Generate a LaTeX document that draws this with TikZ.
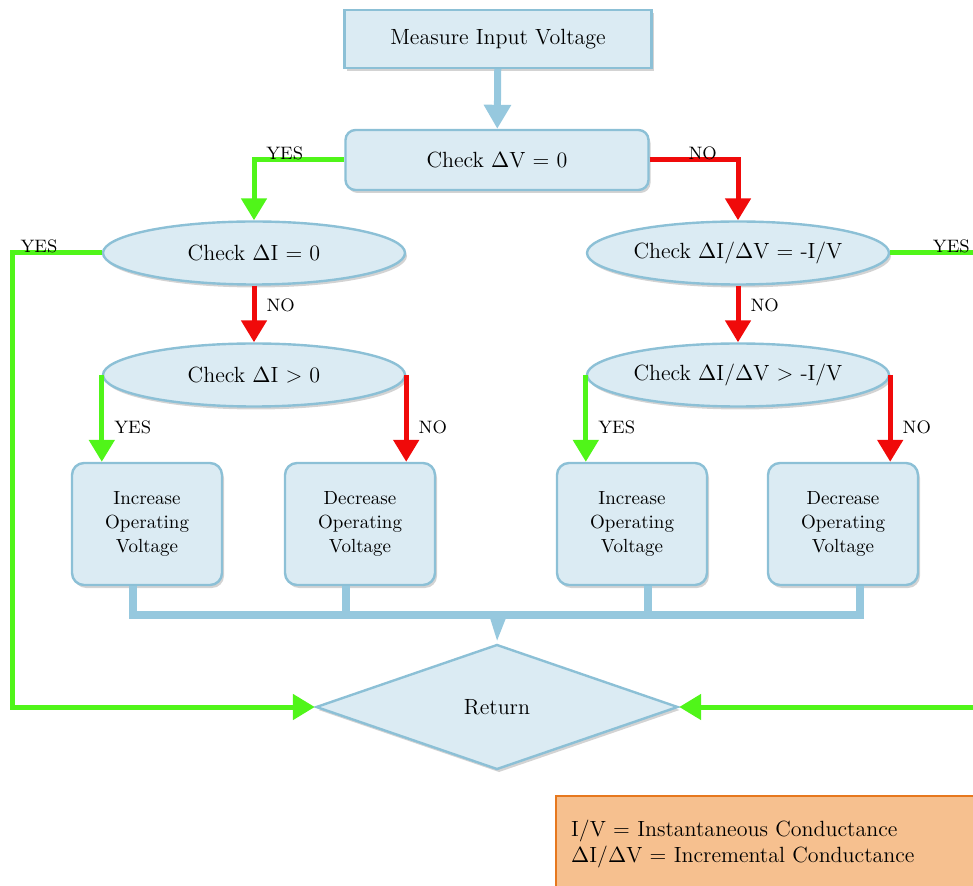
\documentclass[tikz,border=0pt]{standalone}
\usepackage{fontspec}
\usepackage{amsmath,amssymb}
\usetikzlibrary{arrows.meta,shapes.geometric,shadows}
\definecolor{box_fill}{RGB}{219,235,243}
\definecolor{box_line}{RGB}{140,192,214}
\definecolor{flow_blue}{RGB}{150,200,222}
\definecolor{yes_green}{RGB}{80,245,25}
\definecolor{no_red}{RGB}{240,10,10}
\definecolor{note_fill}{RGB}{246,192,143}
\definecolor{note_line}{RGB}{230,120,30}

\begin{document}
\begin{tikzpicture}[x=0.5pt,y=-0.5pt,semithick]
    \tikzstyle{boxshadow}=[drop shadow={opacity=0.35,shadow xshift=1pt,shadow yshift=-1.5pt}]
    \tikzstyle{rect}=[draw=box_line, line width=1.2pt, fill=box_fill, boxshadow, inner sep=0pt, text=black, font=\fontsize{11}{13}\selectfont]
    \tikzstyle{oval}=[rect, ellipse, minimum width=151pt, minimum height=31.5pt]
    \tikzstyle{act}=[rect, rounded corners=6pt, minimum width=75pt, minimum height=61pt, align=center, font=\fontsize{9.5}{12}\selectfont]
    \tikzstyle{ret}=[rect, diamond, minimum width=181pt, minimum height=62.5pt]
    \tikzstyle{note}=[draw=note_line, line width=1.2pt, fill=note_fill, align=left, anchor=north west, inner xsep=7.5pt, text width=212pt, minimum height=48pt, font=\fontsize{11}{13}\selectfont]
    \tikzstyle{flow}=[draw=flow_blue, line width=3.5pt, -{Triangle[width=13pt,length=12pt]}]
    \tikzstyle{bus}=[draw=flow_blue, line width=4pt]
    \tikzstyle{yes}=[draw=yes_green, line width=2.5pt, -{Triangle[width=12.5pt,length=11pt]}]
    \tikzstyle{no}=[draw=no_red, line width=2.5pt, -{Triangle[width=12.5pt,length=11pt]}]
    \tikzstyle{lbl}=[anchor=south, inner sep=0.5pt, yshift=-1.5pt, text=black, font=\fontsize{9}{10}\selectfont]
    \tikzstyle{vlbl}=[anchor=west, inner sep=0pt, xshift=5pt, text=black, font=\fontsize{9}{10}\selectfont]

    \useasboundingbox (0,0) rectangle (973,886);

    \node[rect, minimum width=153.5pt, minimum height=29pt] (measure) at (498,39) {Measure Input Voltage};
    \node[rect, rounded corners=5pt, minimum width=151.5pt, minimum height=30pt] (chkV) at (497,160) {Check $\Delta$V = 0};
    \node[oval] (chkI)    at (254,253) {Check $\Delta$I = 0};
    \node[oval] (chkG)    at (738,253) {Check $\Delta$I/$\Delta$V = -I/V};
    \node[oval] (chkIpos) at (254,375) {Check $\Delta$I > 0};
    \node[oval] (chkGpos) at (738,375) {Check $\Delta$I/$\Delta$V > -I/V};

    \node[act] (incL) at (147,524) {Increase\\Operating\\Voltage};
    \node[act] (decL) at (360,524) {Decrease\\Operating\\Voltage};
    \node[act] (incR) at (632,524) {Increase\\Operating\\Voltage};
    \node[act] (decR) at (843,524) {Decrease\\Operating\\Voltage};

    \node[ret] (ret) at (497,707) {Return};
    \node[note] (legend) at (555,795) {I/V = Instantaneous Conductance\\$\Delta$I/$\Delta$V = Incremental Conductance};

    \coordinate (lft) at (12,707);
    \coordinate (rgt) at (980,707);
    \coordinate (b1) at (133,615);
    \coordinate (b2) at (346,615);
    \coordinate (b3) at (648,615);
    \coordinate (b4) at (860,615);
    \coordinate (bm) at (498,615);

    \draw[flow] (measure) -- (chkV);
    \draw[yes] (chkV.west) -| node[lbl, pos=0.33] {YES} (chkI.north);
    \draw[no]  (chkV.east) -| node[lbl, pos=0.3] {NO} (chkG.north);

    \draw[yes] (chkI.west) -| node[lbl, pos=0.35] {YES} (lft) -- (ret.west);
    \draw[yes] (chkG.east) -| node[lbl, pos=0.34] {YES} (rgt) -- (ret.east);

    \draw[no] (chkI.south) -- node[vlbl, pos=0.35] {NO} (chkIpos.north);
    \draw[no] (chkG.south) -- node[vlbl, pos=0.35] {NO} (chkGpos.north);

    \draw[yes] (chkIpos.west) -- node[vlbl, pos=0.6] {YES} (chkIpos.west |- incL.north);
    \draw[no]  (chkIpos.east) -- node[vlbl, pos=0.6] {NO} (chkIpos.east |- decL.north);
    \draw[yes] (chkGpos.west) -- node[vlbl, pos=0.6] {YES} (chkGpos.west |- incR.north);
    \draw[no]  (chkGpos.east) -- node[vlbl, pos=0.6] {NO} (chkGpos.east |- decR.north);

    \draw[bus] (incL.south -| b1) -- (b1) -- (b4) -- (decR.south -| b4);
    \draw[bus] (decL.south -| b2) -- (b2);
    \draw[bus] (incR.south -| b3) -- (b3);
    \draw[flow, -{Triangle[width=7pt,length=13pt]}] (bm) -- (ret.north);
\end{tikzpicture}
\end{document}
